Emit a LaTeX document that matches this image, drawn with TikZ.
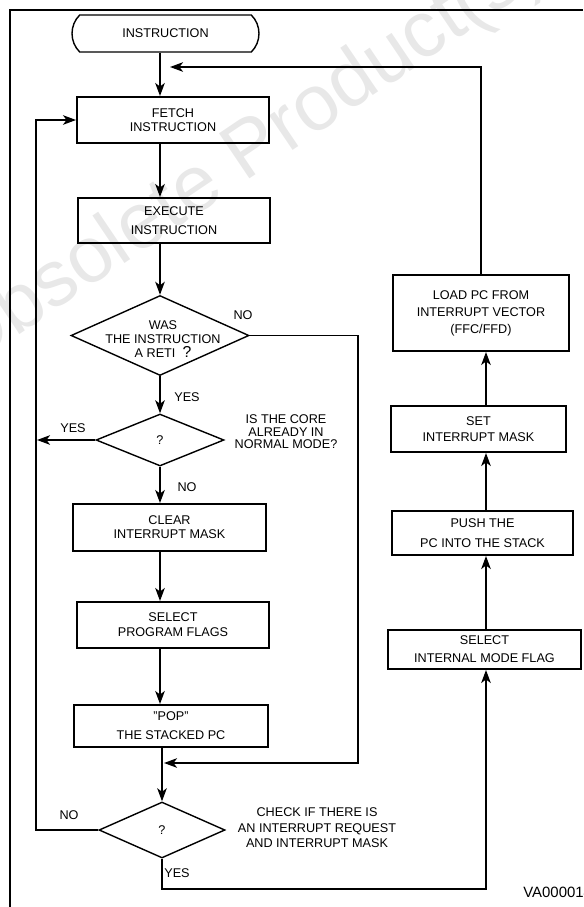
\documentclass[tikz,border=0pt]{standalone}
\usepackage{fontspec}
\setmainfont{Liberation Sans}
\usetikzlibrary{shapes.geometric,shapes.misc,arrows.meta}

\begin{document}
\begin{tikzpicture}[x=0.02cm,y=-0.02cm]
                \tikzset{every node/.style={font=\fontsize{7.2}{8}\selectfont},
                         box/.style={draw,line width=1.1pt,inner sep=0pt,align=center},
                         decision/.style={draw,diamond,line width=0.8pt,inner sep=0pt,align=center},
                         startstop/.style={draw,rounded rectangle,rounded rectangle arc length=90,line width=0.8pt,inner sep=0pt},
                         tag/.style={inner sep=0pt,align=center},
                         wmark/.style={anchor=base west,rotate=34,inner sep=0pt,text=black!9,font=\fontsize{45}{50}\selectfont},
                         flow/.style={line width=1.1pt,-{Stealth[length=2.6mm,width=1.9mm,inset=0.7mm]}},
                         line/.style={line width=1.1pt}}
                \useasboundingbox (0,0) rectangle (583,907);
                \clip (0,0) rectangle (583,907);
                \node[wmark] (stamp) at (-36,372) {Obsolete Product(s)};
                \draw[line] (10,907) -- (10,10) -- (583,10);

                \coordinate (spine) at (160,0);
                \coordinate (rcol) at (486,0);
                \coordinate (loop) at (36,0);
                \coordinate (back) at (170,67);
                \coordinate (merge) at (164,763);
                \coordinate (yesend) at (37,440);

                \node[startstop,minimum width=3.74cm,minimum height=0.74cm] (start) at (165.5,33.5) {INSTRUCTION};
                \node[box,minimum width=3.84cm,minimum height=0.92cm] (fetch) at (173,120) {FETCH\\INSTRUCTION};
                \node[box,minimum width=3.84cm,minimum height=0.9cm] (exec) at (174,220.5) {EXECUTE\\[1mm]INSTRUCTION};
                \node[decision,minimum width=3.56cm,minimum height=1.6cm] (reti) at (160,335.5) {};
                \node[tag] (retitext) at (163,339) {WAS\\THE INSTRUCTION\\A RETI~~{\fontsize{9}{8}\selectfont ?}};
                \node[decision,minimum width=2.56cm,minimum height=1.04cm] (normal) at (160,440) {?};
                \node[box,minimum width=3.86cm,minimum height=0.94cm] (clear) at (169.5,527.5) {CLEAR\\INTERRUPT MASK};
                \node[box,minimum width=3.84cm,minimum height=0.92cm] (flags) at (173,625) {SELECT\\[0.2mm]PROGRAM FLAGS};
                \node[box,minimum width=3.88cm,minimum height=0.84cm] (pop) at (171,726) {"POP"\\[1mm]THE STACKED PC};
                \node[decision,minimum width=2.52cm,minimum height=1.12cm] (irq) at (162,830) {?};

                \node[box,minimum width=3.52cm,minimum height=1.52cm] (load) at (481,313) {LOAD PC FROM\\[0.6mm]INTERRUPT VECTOR\\[0.6mm](FFC/FFD)};
                \node[box,minimum width=3.5cm,minimum height=0.92cm] (setmask) at (478.5,429) {SET\\[0.4mm]INTERRUPT MASK};
                \node[box,minimum width=3.62cm,minimum height=0.88cm] (push) at (482.5,533) {PUSH THE\\[1.2mm]PC INTO THE STACK};
                \node[box,minimum width=3.86cm,minimum height=0.78cm] (mode) at (484.5,649.5) {SELECT\\[0.8mm]INTERNAL MODE FLAG};

                \node[tag] (noreti) at (243,315) {NO};
                \node[tag] (yesreti) at (187,397) {YES};
                \node[tag] (yesnormal) at (73,428) {YES};
                \node[tag] (asknormal) at (286,432) {IS THE CORE\\[-0.3mm]ALREADY IN\\[-0.3mm]NORMAL MODE?};
                \node[tag] (nonormal) at (187,487) {NO};
                \node[tag] (noirq) at (69,815) {NO};
                \node[tag] (askirq) at (317,828) {CHECK IF THERE IS\\[0.3mm]AN INTERRUPT REQUEST\\[0.3mm]AND INTERRUPT MASK};
                \node[tag] (yesirq) at (177,873) {YES};
                \node[tag,anchor=west,font=\fontsize{8.5}{9}\selectfont] (ref) at (523,892) {VA000014};

                \draw[flow] (start.south -| spine) -- (fetch.north -| spine);
                \draw[flow] (fetch.south -| spine) -- (exec.north -| spine);
                \draw[flow] (exec.south -| spine) -- (reti.north);
                \draw[flow] (reti.south) -- (normal.north);
                \draw[flow] (normal.south) -- (clear.north -| spine);
                \draw[flow] (clear.south -| spine) -- (flags.north -| spine);
                \draw[flow] (flags.south -| spine) -- (pop.north -| spine);
                \draw[flow] (pop.south -| irq) -- (irq.north);
                \draw[flow] (reti.east) -- ++(108,0) |- (merge);
                \draw[flow] (normal.west) -- (yesend);
                \draw[flow] (irq.west) -- (irq.west -| loop) |- (fetch.west);
                \draw[flow] (irq.south) -- ++(0,30) -| (mode.south -| rcol);
                \draw[flow] (mode.north -| rcol) -- (push.south -| rcol);
                \draw[flow] (push.north -| rcol) -- (setmask.south -| rcol);
                \draw[flow] (setmask.north -| rcol) -- (load.south -| rcol);
                \draw[flow] (load.north) |- (back);

            \end{tikzpicture}
\end{document}
